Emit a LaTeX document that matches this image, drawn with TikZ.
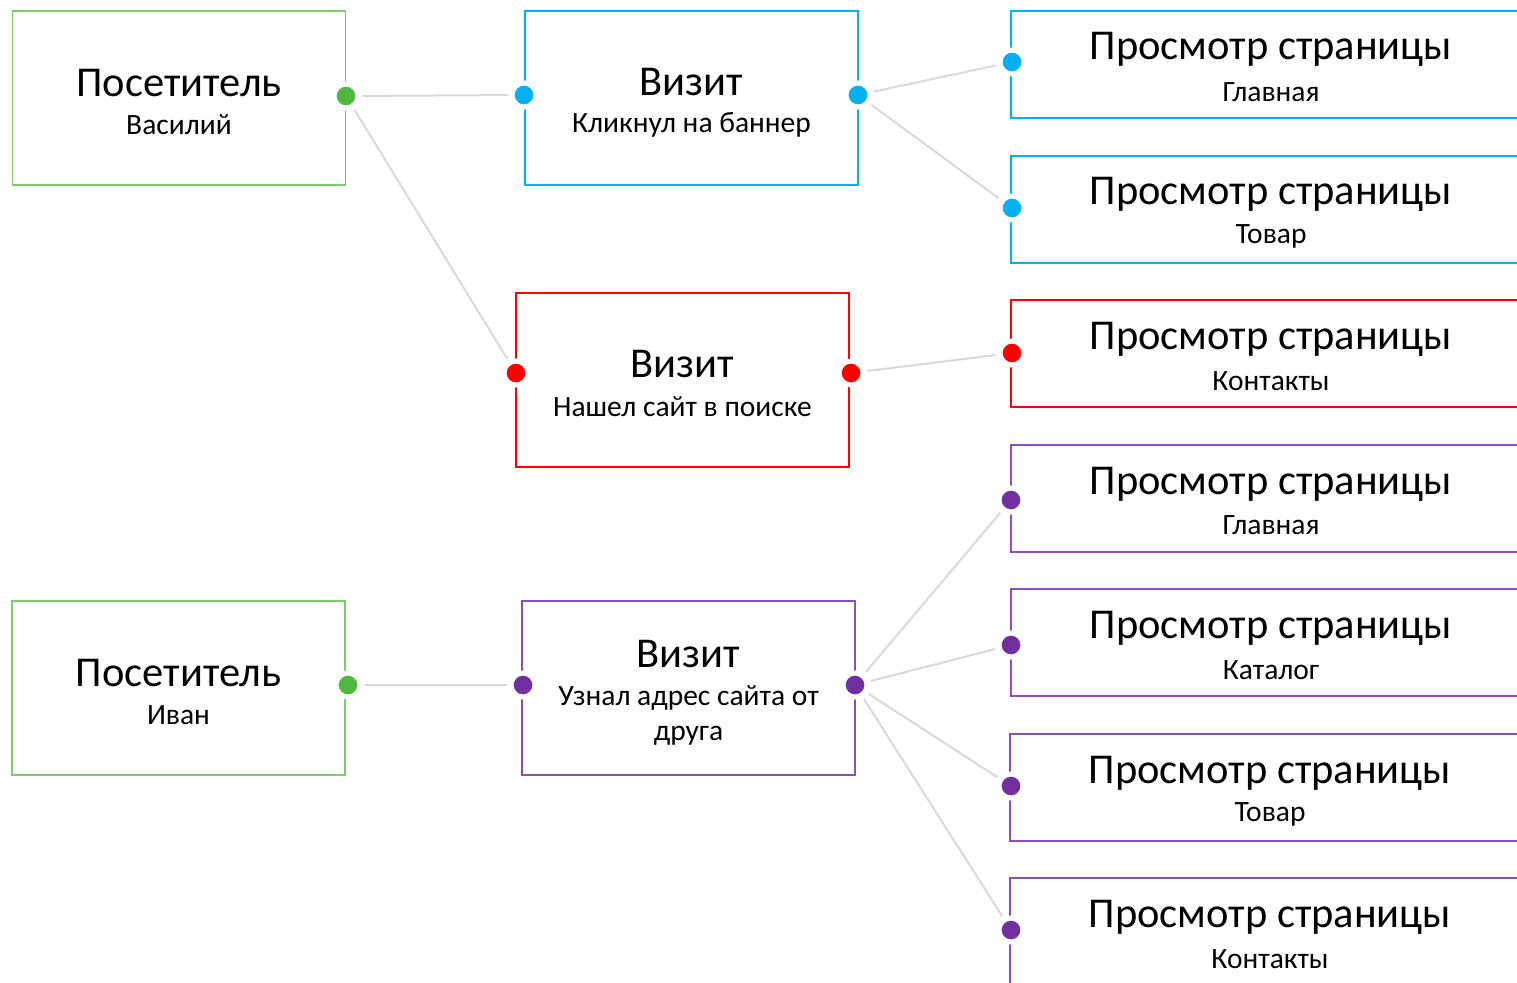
\documentclass[tikz,border=0pt]{standalone}
\usepackage{fontspec}
\setmainfont{Carlito}
\definecolor{cgreen}{HTML}{50B83C}
\definecolor{cgreenb}{HTML}{7CCB6C}
\definecolor{cblue}{HTML}{00B0F0}
\definecolor{cred}{HTML}{FF0000}
\definecolor{cpurple}{HTML}{7030A0}
\definecolor{cpurpleb}{HTML}{8A4FBA}
\definecolor{cline}{HTML}{D9D9D9}
\begin{document}
\begin{tikzpicture}[x=1pt,y=-1pt,
  box/.style={draw=#1, line width=1.5pt, rectangle, minimum width=333pt, minimum height=174pt, inner sep=0pt},
  dot/.style={circle, fill=#1, draw=white, line width=5pt, minimum size=24pt, inner sep=0pt},
  ttl/.style={font=\fontsize{42.5}{50}\selectfont, inner sep=0pt, anchor=center},
  sub/.style={font=\fontsize{29.5}{35}\selectfont, inner sep=0pt, anchor=center, align=center},
  conn/.style={draw=cline, line width=2pt, shorten <=2pt, shorten >=2pt},
  pv/.style={line width=1.5pt}]
\useasboundingbox (0,0) rectangle (1517,982);

% left column
\node[box=cgreenb] (v1box) at (179,98) {};
\node[ttl] (v1t) at (179,83) {Посетитель};
\node[sub] (v1s) at (179,125) {Василий};
\node[box=cgreenb] (v2box) at (178.5,688) {};
\node[ttl] (v2t) at (178.5,673) {Посетитель};
\node[sub] (v2s) at (178.5,715) {Иван};

% visits
\node[box=cblue] (b1box) at (691.5,98) {};
\node[ttl] (b1t) at (691.5,82) {Визит};
\node[sub] (b1s) at (691.5,125) {Кликнул на баннер};
\node[box=cred] (r1box) at (682.5,380) {};
\node[ttl] (r1t) at (682.5,364) {Визит};
\node[sub] (r1s) at (682.5,407) {Нашел сайт в поиске};
\node[box=cpurpleb] (p1box) at (688.5,688) {};
\node[ttl] (p1t) at (688.5,654) {Визит};
\node[sub] (p1s) at (688.5,715) {Узнал адрес сайта от\\друга};

% page views (cut at right edge)
\draw[cblue,pv] (1530,11) -- (1011,11) -- (1011,118) -- (1530,118);
\node[ttl] (a1t) at (1271,49) {Просмотр страницы};
\node[sub] (a1s) at (1271,92) {Главная};
\draw[cblue,pv] (1530,156) -- (1011,156) -- (1011,263) -- (1530,263);
\node[ttl] (a2t) at (1271,194) {Просмотр страницы};
\node[sub] (a2s) at (1271,236) {Товар};
\draw[cred,pv] (1530,300) -- (1011,300) -- (1011,407) -- (1530,407);
\node[ttl] (a3t) at (1271,339) {Просмотр страницы};
\node[sub] (a3s) at (1271,381) {Контакты};
\draw[cpurpleb,pv] (1530,445) -- (1011,445) -- (1011,552) -- (1530,552);
\node[ttl] (a4t) at (1271,484) {Просмотр страницы};
\node[sub] (a4s) at (1271,525) {Главная};
\draw[cpurpleb,pv] (1530,589) -- (1011,589) -- (1011,696) -- (1530,696);
\node[ttl] (a5t) at (1271,628) {Просмотр страницы};
\node[sub] (a5s) at (1271,670) {Каталог};
\draw[cpurpleb,pv] (1530,734) -- (1010,734) -- (1010,841) -- (1530,841);
\node[ttl] (a6t) at (1270,773) {Просмотр страницы};
\node[sub] (a6s) at (1270,814) {Товар};
\draw[cpurpleb,pv] (1530,878) -- (1010,878) -- (1010,995);
\node[ttl] (a7t) at (1270,917) {Просмотр страницы};
\node[sub] (a7s) at (1270,959) {Контакты};

% dots
\node[dot=cgreen] (g1) at (346,96) {};
\node[dot=cgreen] (g2) at (348,685) {};
\node[dot=cblue] (bl) at (524,95) {};
\node[dot=cblue] (br) at (858,95) {};
\node[dot=cred] (rl) at (516,373) {};
\node[dot=cred] (rr) at (851,373) {};
\node[dot=cpurple] (pl) at (523,685) {};
\node[dot=cpurple] (pr) at (855,685) {};
\node[dot=cblue] (d1) at (1012,62) {};
\node[dot=cblue] (d2) at (1012,208) {};
\node[dot=cred] (d3) at (1012,353) {};
\node[dot=cpurple] (d4) at (1011,500) {};
\node[dot=cpurple] (d5) at (1011,645) {};
\node[dot=cpurple] (d6) at (1011,786) {};
\node[dot=cpurple] (d7) at (1011,930) {};

% connectors
\draw[conn] (g1) -- (bl);
\draw[conn] (g1) -- (rl);
\draw[conn] (br) -- (d1);
\draw[conn] (br) -- (d2);
\draw[conn] (rr) -- (d3);
\draw[conn] (g2) -- (pl);
\draw[conn] (pr) -- (d4);
\draw[conn] (pr) -- (d5);
\draw[conn] (pr) -- (d6);
\draw[conn] (pr) -- (d7);
\end{tikzpicture}
\end{document}
